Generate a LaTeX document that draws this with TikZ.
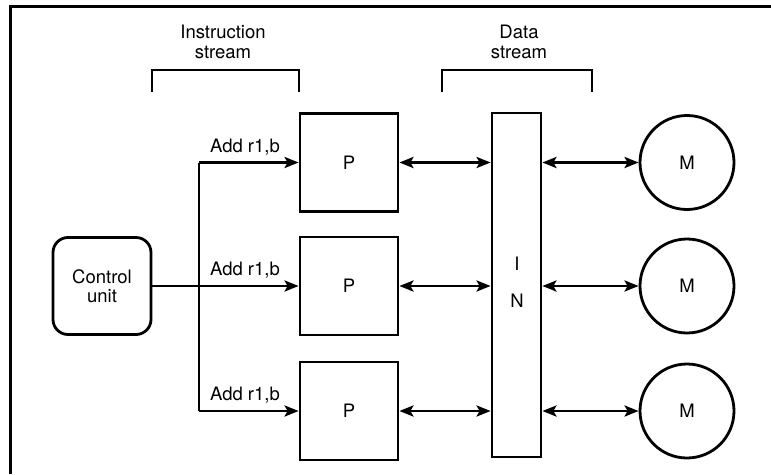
\documentclass[tikz,border=0pt]{standalone}
\usepackage{fontspec}
\setmainfont{TeX Gyre Heros}
\usetikzlibrary{arrows.meta}
\begin{document}
\begin{tikzpicture}[x=1pt,y=-1pt,
  lw/.style={line width=2.8pt},
  pbox/.style={draw,lw,minimum width=98pt,minimum height=98pt,inner sep=0pt},
  mcirc/.style={draw,lw,circle,minimum size=94pt,inner sep=0pt},
  lbl/.style={inner sep=0pt},
  arr/.style={lw,-{Stealth[length=14pt,width=11pt,inset=3pt]}},
  darr/.style={lw,{Stealth[length=14pt,width=11pt,inset=3pt]}-{Stealth[length=14pt,width=11pt,inset=3pt]}},
  every node/.style={font=\fontsize{18.5}{19.5}\selectfont}]
\useasboundingbox (0,0) rectangle (771,474);
% frame
\coordinate (fr1) at (10,474);
\coordinate (fr2) at (10,6);
\coordinate (fr3) at (771,6);
\draw[line width=3pt] (fr1) -- (fr2) -- (fr3);
% headings
\node[lbl,align=center] (ihead) at (223,42) {Instruction\\stream};
\node[lbl,align=center] (dhead) at (519,42) {Data\\stream};
% brackets
\coordinate (ib1) at (152,92); \coordinate (ib2) at (152,70);
\coordinate (ib3) at (299,70); \coordinate (ib4) at (299,92);
\draw[lw] (ib1) -- (ib2) -- (ib3) -- (ib4);
\coordinate (db1) at (442,92); \coordinate (db2) at (442,70);
\coordinate (db3) at (592,70); \coordinate (db4) at (592,92);
\draw[lw] (db1) -- (db2) -- (db3) -- (db4);
% control unit
\node[draw,lw,rounded corners=15pt,minimum width=98pt,minimum height=97pt,align=center,inner sep=0pt] (cu) at (102,286) {Control\\unit};
% processors
\node[pbox] (p1) at (349,162.5) {P};
\node[pbox] (p2) at (349,286) {P};
\node[pbox] (p3) at (349,411) {P};
% interconnection network
\node[draw,lw,minimum width=49pt,minimum height=344pt,inner sep=0pt] (in) at (516.5,285) {};
\node[inner sep=0pt,anchor=base] (inI) at (517,270) {I};
\node[inner sep=0pt,anchor=base] (inN) at (517,307) {N};
% memories
\node[mcirc] (m1) at (687,162.5) {M};
\node[mcirc] (m2) at (687,286) {M};
\node[mcirc] (m3) at (687,411) {M};
% instruction distribution
\coordinate (tr) at (199,286);
\coordinate (trt) at (199,162.5);
\coordinate (trb) at (199,411);
\draw[lw] (cu.east) -- (tr);
\draw[lw] (trt) -- (trb);
\draw[arr] (trt) -- (p1.west);
\draw[arr] (tr) -- (p2.west);
\draw[arr] (trb) -- (p3.west);
\node[lbl,anchor=base] (a1) at (245,152) {Add r1,b};
\node[lbl,anchor=base] (a2) at (245,275) {Add r1,b};
\node[lbl,anchor=base] (a3) at (245,400) {Add r1,b};
% data paths
\draw[darr] (p1.east) -- (in.west |- p1.east);
\draw[darr] (p2.east) -- (in.west |- p2.east);
\draw[darr] (p3.east) -- (in.west |- p3.east);
\draw[darr] (in.east |- m1.west) -- (m1.west);
\draw[darr] (in.east |- m2.west) -- (m2.west);
\draw[darr] (in.east |- m3.west) -- (m3.west);
\end{tikzpicture}
\end{document}
